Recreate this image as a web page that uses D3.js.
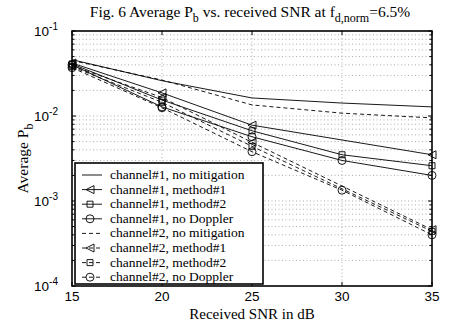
<!DOCTYPE html>
<html>
<head>
<meta charset="utf-8">
<script src="https://cdn.jsdelivr.net/npm/d3@7"></script>
<style>
  body { margin: 0; background: #fff; }
  svg { display: block; }
</style>
</head>
<body>
<div id="wrapper"></div>
<script>
// values (Average Pb vs SNR)
const snr = [15, 20, 25, 30, 35]
const ch1NoMit = [0.046, 0.026, 0.0163, 0.0142, 0.0128]
const ch1M1 = [0.042, 0.0187, 0.0078, null, 0.0035]
const ch1M2 = [0.041, 0.0154, 0.0067, 0.0035, 0.0026]
const ch1NoDop = [0.040, 0.0128, 0.0057, 0.0030, 0.0020]
const ch2NoMit = [0.045, 0.0265, 0.0135, 0.0108, 0.0095]
const ch2M1 = [0.039, 0.0165, 0.0049, null, 0.00046]
const ch2M2 = [0.038, 0.0145, 0.0044, null, 0.00044]
const ch2NoDop = [0.037, 0.0125, 0.0038, 0.00134, 0.00040]

const xTicks = [15, 20, 25, 30, 35]
const yTicks = [1e-4, 1e-3, 1e-2, 1e-1]
const yTickExp = ["-4", "-3", "-2", "-1"]

const series = [
  { name: "channel#1, no mitigation", values: ch1NoMit, dash: null, marker: null },
  { name: "channel#1, method#1", values: ch1M1, dash: null, marker: "tri" },
  { name: "channel#1, method#2", values: ch1M2, dash: null, marker: "sq" },
  { name: "channel#1, no Doppler", values: ch1NoDop, dash: null, marker: "circ" },
  { name: "channel#2, no mitigation", values: ch2NoMit, dash: "4,3", marker: null },
  { name: "channel#2, method#1", values: ch2M1, dash: "4,3", marker: "tri" },
  { name: "channel#2, method#2", values: ch2M2, dash: "4,3", marker: "sq" },
  { name: "channel#2, no Doppler", values: ch2NoDop, dash: "4,3", marker: "circ" },
]

const dms = {
  width: 450,
  height: 325,
  margin: { top: 31, right: 18, bottom: 39, left: 72 },
}
dms.boundedWidth = dms.width - dms.margin.left - dms.margin.right
dms.boundedHeight = dms.height - dms.margin.top - dms.margin.bottom

const serif = "'Liberation Serif', 'Times New Roman', serif"
const sans = "'Liberation Sans', Arial, sans-serif"

const svg = d3.select("#wrapper").append("svg")
  .attr("width", dms.width)
  .attr("height", dms.height)

const bounds = svg.append("g")
  .attr("transform", `translate(${dms.margin.left},${dms.margin.top})`)

const xScale = d3.scaleLinear()
  .domain([15, 35])
  .range([0, dms.boundedWidth])

const yScale = d3.scaleLog()
  .domain([1e-4, 1e-1])
  .range([dms.boundedHeight, 0])

// minor log positions
const minor = []
for (let e = -4; e < -1; e++) {
  for (let k = 2; k <= 9; k++) minor.push(k * Math.pow(10, e))
}

// grid
const grid = bounds.append("g")
  .attr("stroke", "#777")
  .attr("stroke-width", 0.6)
  .attr("stroke-dasharray", "1,2.5")
grid.selectAll(".gx").data(xTicks.slice(1, -1)).join("line")
  .attr("x1", d => xScale(d)).attr("x2", d => xScale(d))
  .attr("y1", 0).attr("y2", dms.boundedHeight)
grid.selectAll(".gy").data(minor.concat(yTicks.slice(1, -1))).join("line")
  .attr("y1", d => yScale(d)).attr("y2", d => yScale(d))
  .attr("x1", 0).attr("x2", dms.boundedWidth)

// ticks (inside, both sides)
const ticks = bounds.append("g").attr("stroke", "#000").attr("stroke-width", 1)
xTicks.forEach(t => {
  const x = xScale(t)
  ticks.append("line").attr("x1", x).attr("x2", x).attr("y1", dms.boundedHeight).attr("y2", dms.boundedHeight - 4)
  ticks.append("line").attr("x1", x).attr("x2", x).attr("y1", 0).attr("y2", 4)
})
yTicks.forEach(t => {
  const y = yScale(t)
  ticks.append("line").attr("x1", 0).attr("x2", 4).attr("y1", y).attr("y2", y)
  ticks.append("line").attr("x1", dms.boundedWidth).attr("x2", dms.boundedWidth - 4).attr("y1", y).attr("y2", y)
})
minor.forEach(t => {
  const y = yScale(t)
  ticks.append("line").attr("x1", 0).attr("x2", 2.5).attr("y1", y).attr("y2", y)
  ticks.append("line").attr("x1", dms.boundedWidth).attr("x2", dms.boundedWidth - 2.5).attr("y1", y).attr("y2", y)
})

// data lines
const line = d3.line()
  .x(d => xScale(d.x))
  .y(d => yScale(d.y))

function drawMarker(g, type, x, y) {
  const m = g.append("path")
    .attr("fill", "none")
    .attr("stroke", "#000")
    .attr("stroke-width", 0.9)
  const r = 4
  if (type === "tri") {
    m.attr("d", `M${x - r},${y} L${x + r},${y - r} L${x + r},${y + r} Z`)
  } else if (type === "sq") {
    m.attr("d", `M${x - 3},${y - 3} h6 v6 h-6 Z`)
  } else if (type === "circ") {
    m.attr("d", d3.arc()({ innerRadius: 0, outerRadius: r, startAngle: 0, endAngle: 2 * Math.PI }))
      .attr("transform", `translate(${x},${y})`)
  }
}

const plot = bounds.append("g")
series.forEach(s => {
  const pts = snr.map((x, i) => ({ x, y: s.values[i] })).filter(d => d.y != null)
  plot.append("path")
    .datum(pts)
    .attr("d", line)
    .attr("fill", "none")
    .attr("stroke", "#000")
    .attr("stroke-width", 0.9)
    .attr("stroke-dasharray", s.dash)
  if (s.marker) {
    pts.forEach(d => drawMarker(plot, s.marker, xScale(d.x), yScale(d.y)))
  }
})

// axis box
bounds.append("rect")
  .attr("width", dms.boundedWidth)
  .attr("height", dms.boundedHeight)
  .attr("fill", "none")
  .attr("stroke", "#000")
  .attr("stroke-width", 1.6)

// tick labels
const xLabels = bounds.append("g")
  .style("font-family", sans).style("font-size", "13.5px")
xLabels.selectAll("text").data(xTicks).join("text")
  .attr("x", d => xScale(d))
  .attr("y", dms.boundedHeight + 15)
  .attr("text-anchor", "middle")
  .text(d => d)

const yLabels = bounds.append("g")
  .style("font-family", sans).style("font-size", "13.5px")
yTicks.forEach((t, i) => {
  const txt = yLabels.append("text")
    .attr("x", -14)
    .attr("y", yScale(t) + 5)
    .attr("text-anchor", "end")
  txt.append("tspan").text("10")
  txt.append("tspan").attr("dy", -6).style("font-size", "10px").text(yTickExp[i])
})

// legend
const legend = bounds.append("g").attr("transform", "translate(3,132)")
legend.append("rect")
  .attr("width", 188)
  .attr("height", 121)
  .attr("fill", "#fff")
  .attr("stroke", "#000")
  .attr("stroke-width", 1.6)
series.forEach((s, i) => {
  const y = 12 + i * 14.6
  legend.append("line")
    .attr("x1", 7).attr("x2", 27)
    .attr("y1", y).attr("y2", y)
    .attr("stroke", "#000")
    .attr("stroke-width", 0.9)
    .attr("stroke-dasharray", s.dash)
  if (s.marker) drawMarker(legend, s.marker, 15, y)
  legend.append("text")
    .attr("x", 35)
    .attr("y", y + 4)
    .style("font-family", serif)
    .style("font-size", "13.5px")
    .text(s.name)
})

// title
const title = svg.append("text")
  .attr("x", 250)
  .attr("y", 17)
  .attr("text-anchor", "middle")
  .style("font-family", serif)
  .style("font-size", "15.5px")
title.append("tspan").text("Fig. 6  Average P")
title.append("tspan").attr("dy", 5).style("font-size", "12px").text("b")
title.append("tspan").attr("dy", -5).text(" vs. received SNR at f")
title.append("tspan").attr("dy", 5).style("font-size", "12px").text("d,norm")
title.append("tspan").attr("dy", -5).text("=6.5%")

// axis titles
svg.append("text")
  .attr("x", dms.margin.left + dms.boundedWidth / 2)
  .attr("y", 319)
  .attr("text-anchor", "middle")
  .style("font-family", serif)
  .style("font-size", "15px")
  .text("Received SNR in dB")

const yTitle = svg.append("text")
  .attr("transform", `translate(28,${dms.margin.top + dms.boundedHeight / 2}) rotate(-90)`)
  .attr("text-anchor", "middle")
  .style("font-family", serif)
  .style("font-size", "15.5px")
yTitle.append("tspan").text("Average P")
yTitle.append("tspan").attr("dy", 5).style("font-size", "12px").text("b")
</script>
</body>
</html>
